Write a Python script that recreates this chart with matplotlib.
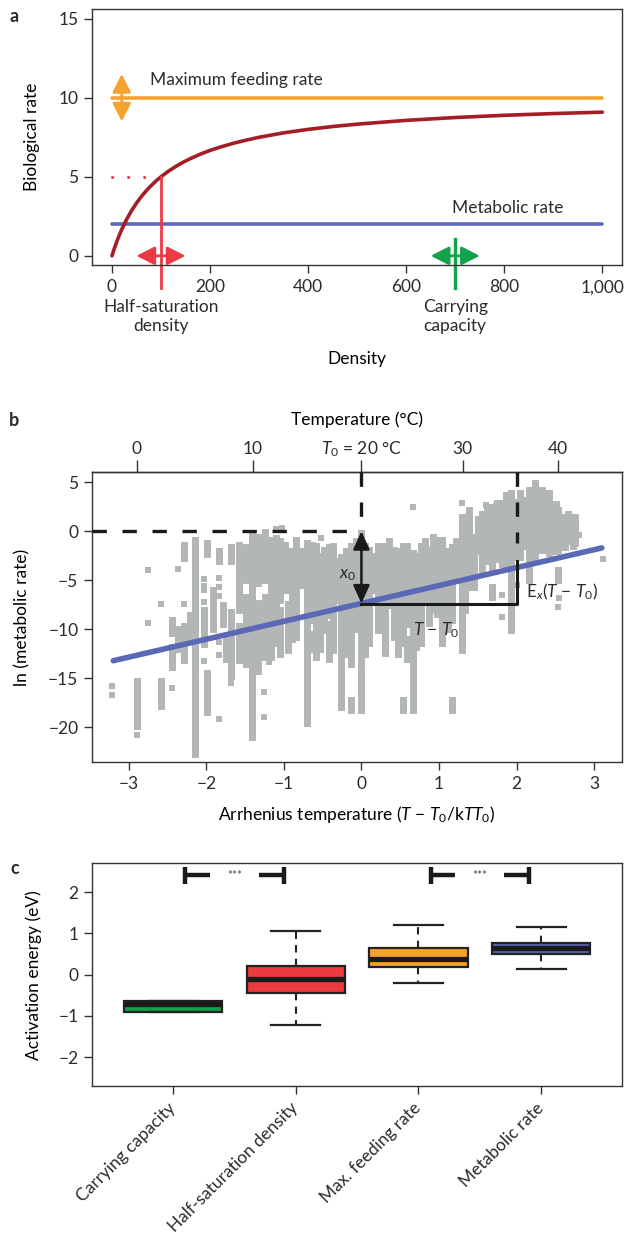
import matplotlib
matplotlib.use('Agg')
import matplotlib.pyplot as plt
import matplotlib.transforms as mtransforms

plt.rcParams['font.family'] = ['Lato', 'DejaVu Sans']
plt.rcParams['mathtext.fontset'] = 'custom'
plt.rcParams['mathtext.rm'] = 'Lato'
plt.rcParams['mathtext.it'] = 'Lato:italic'
plt.rcParams['font.size'] = 12
plt.rcParams['text.color'] = '#2b2b2b'
plt.rcParams['axes.edgecolor'] = '#333333'
plt.rcParams['axes.linewidth'] = 1.0
plt.rcParams['xtick.color'] = '#333333'
plt.rcParams['ytick.color'] = '#333333'
plt.rcParams['xtick.labelcolor'] = '#2b2b2b'
plt.rcParams['ytick.labelcolor'] = '#2b2b2b'

# ---- panel a: conceptual rates vs density ----
density = [0, 5, 10, 15, 20, 30, 40, 50, 60, 70, 80, 90, 100, 115, 130, 145, 160, 180, 200,
           225, 250, 275, 300, 350, 400, 450, 500, 600, 700, 800, 900, 1000]
feeding = [0, 0.48, 0.91, 1.30, 1.67, 2.31, 2.86, 3.33, 3.75, 4.12, 4.44, 4.74, 5.0, 5.35,
           5.65, 5.92, 6.15, 6.43, 6.67, 6.92, 7.14, 7.33, 7.5, 7.78, 8.0, 8.18, 8.33, 8.57,
           8.75, 8.89, 9.0, 9.09]
max_feeding_rate = 10
metabolic_rate = 2
half_saturation = 100
carrying_capacity = 700
density_ticks = [0, 200, 400, 600, 800, 1000]

# ---- panel b: metabolic rate vs Arrhenius temperature ----
# vertical runs of overlapping squares: (x, y_low, y_high)
runs = [
    (-2.90, -19.9, -15.3), (-2.59, -17.8, -15.3), (-2.44, -10.4, -9.0), (-2.44, -12.6, -11.8),
    (-2.44, -13.8, -13.2), (-2.36, -12.0, -10.0), (-2.29, -2.75, -1.4), (-2.29, -13.1, -9.7),
    (-2.21, -11.0, -8.5), (-2.14, -14.2, -0.9), (-2.14, -22.7, -15.0), (-2.03, -11.5, -8.0),
    (-1.99, -2.3, -1.2), (-1.99, -18.4, -14.5), (-1.92, -10.0, -6.0), (-1.84, -3.0, -2.0),
    (-1.78, -9.5, -7.5), (-1.74, -13.0, -11.0), (-1.68, -3.0, -1.6), (-1.68, -14.8, -8.2),
    (-1.58, -4.0, -1.4), (-1.58, -8.0, -4.6), (-1.58, -13.1, -9.7), (-1.49, -5.0, -1.6),
    (-1.49, -13.5, -6.7), (-1.41, -21.0, -0.2), (-1.33, -5.3, -0.55), (-1.33, -14.2, -7.35),
    (-1.24, -5.0, -0.05), (-1.24, -12.8, -6.7), (-1.17, -12.8, -0.9), (-1.10, -9.4, -0.7),
    (-1.10, -11.4, -10.1), (-1.05, -7.0, -1.0), (-1.05, -12.5, -8.0), (-0.98, -6.0, -1.4),
    (-0.95, -12.1, -7.4), (-0.90, -11.0, -2.0), (-0.85, -8.4, -0.9), (-0.85, -10.75, -9.05),
    (-0.78, -5.5, -2.0), (-0.70, -19.6, -1.2), (-0.64, -9.0, -1.4), (-0.64, -12.0, -10.5),
    (-0.59, -12.8, -1.5), (-0.53, -12.0, -2.5), (-0.48, -10.1, -1.9), (-0.42, -8.5, -1.6),
    (-0.42, -13.0, -9.5), (-0.37, -12.1, -1.5), (-0.30, -7.0, -3.0), (-0.26, -13.5, -2.6),
    (-0.26, -17.9, -14.2), (-0.20, -12.5, -2.0), (-0.14, -13.5, -1.5), (-0.14, -18.2, -17.2),
    (-0.07, -10.0, -1.0), (0.00, -13.5, -0.2), (0.00, -18.2, -14.2), (0.05, -12.5, -1.5),
    (0.10, -11.4, -1.9), (0.16, -6.0, -2.5), (0.21, -10.1, -1.5), (0.26, -9.0, -2.5),
    (0.31, -12.4, -1.5), (0.36, -7.5, -1.0), (0.42, -10.75, -1.9), (0.47, -12.5, -2.0),
    (0.53, -11.4, -1.5), (0.53, -18.2, -17.2), (0.59, -9.5, -1.5), (0.59, -13.0, -11.0),
    (0.66, -18.2, -2.2), (0.71, -11.8, -2.5), (0.77, -11.4, -1.5), (0.82, -7.0, -1.0),
    (0.87, -9.4, -1.9), (0.92, -8.0, -0.55), (0.98, -8.4, -0.9), (1.04, -11.4, -0.9),
    (1.11, -10.0, -2.0), (1.17, -9.05, -1.6), (1.17, -18.2, -17.2), (1.22, -5.0, -1.0),
    (1.30, -12.1, 1.5), (1.34, -8.0, 1.0), (1.39, -5.65, 2.2), (1.45, -5.65, -0.55),
    (1.50, -2.0, 1.2), (1.56, -3.95, 1.8), (1.62, -3.0, 2.2), (1.68, -3.95, 2.5),
    (1.68, -6.7, -5.65), (1.74, -2.8, 2.6), (1.81, -3.3, 2.85), (1.87, -3.5, 3.3),
    (1.93, -3.95, 3.9), (1.93, -10.1, -4.6), (1.99, -2.6, 3.0), (2.05, -2.6, 3.9),
    (2.10, -1.5, 3.2), (2.16, -2.9, 4.2), (2.16, -5.0, -3.95), (2.20, -2.3, 3.8),
    (2.24, -2.6, 4.9), (2.29, -1.2, 3.6), (2.33, -1.9, 4.2), (2.38, -1.0, 3.0),
    (2.42, -2.25, 3.9), (2.48, -1.5, 2.6), (2.51, -2.0, 2.8), (2.54, -1.9, 2.17),
    (2.54, -4.97, -3.95), (2.59, -1.2, 1.0), (2.63, -1.6, 1.5), (2.66, -1.0, 1.8),
    (2.70, -0.8, 0.6), (2.73, -1.5, 0.9), (2.76, -1.2, 1.5),
]
points_x = [-3.22, -3.22, -2.90, -2.75, -2.75, -2.59, -2.44, -2.37, -2.29, -2.03, -2.03, -2.03,
            -2.03, -2.03, -1.84, -1.84, -1.84, -1.84, -1.84, -1.84, -1.68, -1.25, -1.25, -1.19,
            -1.10, -1.02, -0.52, 0.66, 1.30, 1.60, 1.75, 1.86, 2.42, 2.76, 3.12, 2.53, 2.55,
            1.81, 1.81, 2.00, 2.80]
points_y = [-15.8, -16.7, -20.8, -3.95, -9.4, -7.45, -16.0, -3.85, -7.45, -4.9, -5.6, -6.0,
            -7.2, -13.2, -4.8, -5.65, -6.6, -11.3, -12.6, -19.1, -15.5, -16.4, -18.9, -13.3,
            0.2, 0.35, -0.7, 2.5, 2.9, 2.7, 2.85, 3.7, 3.9, 1.5, -2.86, -7.7, -6.8,
            -6.5, -8.7, -5.5, -0.4]
fit_x = [-3.2, 3.1]
fit_y = [-13.2, -1.7]
temp_ticks = [0, 10, 20, 30, 40]
temp_labels = ['0', '10', r'$\mathit{T}_0$ = 20 °C', '30', '40']

# ---- panel c: activation energies ----
traits = ['Carrying capacity', 'Half-saturation density', 'Max. feeding rate', 'Metabolic rate']
medians = [-0.70, -0.10, 0.38, 0.64]
q1 = [-0.90, -0.44, 0.19, 0.50]
q3 = [-0.64, 0.21, 0.64, 0.78]
whisk_lo = [-0.90, -1.21, -0.19, 0.14]
whisk_hi = [-0.64, 1.06, 1.21, 1.16]
box_colors = ['#10a24b', '#ec3a40', '#f7a22c', '#5b64b3']
sig_pairs = [(1, 2), (3, 4)]

orange = '#f7a22c'
darkred = '#a51d26'
blue = '#5b68b5'
red = '#ec3a44'
green = '#12a24a'
gray = '#b3b6b6'

fig = plt.figure(figsize=(6.25, 12.34), dpi=100)
axa = fig.add_axes([0.1477, 0.785, 0.8475, 0.2075])
axb = fig.add_axes([0.1477, 0.3827, 0.8475, 0.2345])
axc = fig.add_axes([0.1477, 0.1199, 0.8475, 0.1805])

for ax in (axa, axb, axc):
    ax.tick_params(direction='out', length=6, width=1, pad=4, labelsize=12.5)

# panel a
axa.plot([0, 1000], [max_feeding_rate] * 2, color=orange, lw=2.6, solid_capstyle='round')
axa.plot([0, 1000], [metabolic_rate] * 2, color=blue, lw=2.6, solid_capstyle='round')
axa.plot(density, feeding, color=darkred, lw=2.6, solid_capstyle='round')
axa.plot([0, 76], [max_feeding_rate / 2] * 2, color=red, lw=2.2, ls=(0, (0.05, 5.2)),
         dash_capstyle='round')
axa.plot([half_saturation] * 2, [max_feeding_rate / 2, -2.06], color=red, lw=2, clip_on=False)
axa.plot([carrying_capacity] * 2, [1.05, -2.06], color=green, lw=2.4, clip_on=False)
arrow_style = '<|-|>,head_length=0.55,head_width=0.28'
axa.annotate('', xy=(20, max_feeding_rate + 1.5), xytext=(20, max_feeding_rate - 1.5),
             arrowprops=dict(arrowstyle=arrow_style, mutation_scale=20, color=orange, lw=2,
                             shrinkA=0, shrinkB=0))
axa.annotate('', xy=(half_saturation - 50, 0), xytext=(half_saturation + 50, 0),
             arrowprops=dict(arrowstyle=arrow_style, mutation_scale=20, color=red, lw=2,
                             shrinkA=0, shrinkB=0))
axa.annotate('', xy=(carrying_capacity - 50, 0), xytext=(carrying_capacity + 50, 0),
             arrowprops=dict(arrowstyle=arrow_style, mutation_scale=20, color=green, lw=2,
                             shrinkA=0, shrinkB=0))
axa.text(77, 11.15, 'Maximum feeding rate', ha='left', va='center', fontsize=12.5)
axa.text(920, 3.0, 'Metabolic rate', ha='right', va='center', fontsize=12.5)
trans_a = mtransforms.blended_transform_factory(axa.transData, axa.transAxes)
axa.text(half_saturation, -0.2, 'Half-saturation\ndensity', ha='center', va='center',
         transform=trans_a, fontsize=12.5, linespacing=1.25)
axa.text(carrying_capacity, -0.2, 'Carrying\ncapacity', ha='center', va='center',
         transform=trans_a, fontsize=12.5, linespacing=1.25)
axa.set_xlim(-40, 1040)
axa.set_ylim(-0.6, 15.6)
axa.set_xticks(density_ticks, [f'{v:,}' for v in density_ticks])
axa.set_yticks([0, 5, 10, 15])
axa.set_xlabel('Density', fontsize=12.5, labelpad=40)
axa.set_ylabel('Biological rate', fontsize=12.5)
axa.yaxis.set_label_coords(-0.099, 0.5)

# panel b
run_x = [r[0] for r in runs]
run_lo = [r[1] for r in runs]
run_hi = [r[2] for r in runs]
axb.vlines(run_x, run_lo, run_hi, colors=gray, linewidth=5, capstyle='projecting', zorder=1)
axb.scatter(points_x, points_y, marker='s', s=25, color=gray, linewidths=0, zorder=1)
axb.plot(fit_x, fit_y, color=blue, lw=4, solid_capstyle='round', zorder=3)

xmin, xmax, ymin, ymax = -3.47, 3.36, -23.5, 6.0
x0_level = fit_y[0] + (0 - fit_x[0]) * (fit_y[1] - fit_y[0]) / (fit_x[1] - fit_x[0])
dash = dict(color='#1a1a1a', lw=2.4, dashes=(4.3, 4.7), zorder=4)
axb.plot([xmin, 0], [0, 0], **dash)
axb.plot([0, 0], [ymax, 0.3], **dash)
axb.plot([2, 2], [ymax, -1.2], **dash)
axb.plot([0, 2, 2], [x0_level - 0.1, x0_level - 0.1, -3.0], color='#1a1a1a', lw=2.2, zorder=4)
axb.annotate('', xy=(0, 0), xytext=(0, x0_level),
             arrowprops=dict(arrowstyle='<|-|>,head_length=0.55,head_width=0.25',
                             mutation_scale=20, color='#1a1a1a', lw=1.8, shrinkA=0, shrinkB=0),
             zorder=5)
axb.text(-0.07, -4.5, r'$\mathit{x}_0$', ha='right', va='center', fontsize=12.5, zorder=5)
axb.text(0.97, -10.1, r'$\mathit{T}$ − $\mathit{T}_0$', ha='center', va='center',
         fontsize=12.5, zorder=5)
axb.text(2.12, -6.2, r'E$_\mathit{x}$($\mathit{T}$ − $\mathit{T}_0$)', ha='left', va='center',
         fontsize=12.5, zorder=5)
axb.set_xlim(xmin, xmax)
axb.set_ylim(ymin, ymax)
axb.set_xticks([-3, -2, -1, 0, 1, 2, 3])
axb.set_yticks([5, 0, -5, -10, -15, -20])
axb.set_xlabel(r'Arrhenius temperature ($\mathit{T}$ − $\mathit{T}_0$/k$\mathit{TT}_0$)',
               fontsize=12.5, labelpad=9)
axb.set_ylabel('ln (metabolic rate)', fontsize=12.5)
axb.yaxis.set_label_coords(-0.116, 0.5)

k_b = 8.617e-5
T0 = 293.15


def arrh_to_celsius(x):
    return T0 / (1 - k_b * T0 * x) - 273.15


def celsius_to_arrh(c):
    T = c + 273.15
    return (T - T0) / (k_b * T * T0)


top = axb.secondary_xaxis('top', functions=(arrh_to_celsius, celsius_to_arrh))
top.set_xticks(temp_ticks, temp_labels)
top.tick_params(direction='out', length=9, width=1, pad=4, labelsize=12.5)
for lab in top.get_xticklabels():
    lab.set_va('baseline')
top.set_xlabel('Temperature (°C)', fontsize=12.5, labelpad=10)

# panel c
stats = []
for i in range(len(traits)):
    stats.append(dict(med=medians[i], q1=q1[i], q3=q3[i], whislo=whisk_lo[i],
                      whishi=whisk_hi[i], fliers=[]))
bp = axc.bxp(stats, positions=[1, 2, 3, 4], widths=0.8, capwidths=0.4, patch_artist=True,
             showfliers=False,
             boxprops=dict(edgecolor='#222222', linewidth=1.6),
             medianprops=dict(color='#1a1a1a', linewidth=3.8, solid_capstyle='butt'),
             whiskerprops=dict(color='#222222', linewidth=1.5, linestyle=(0, (3.5, 3.0))),
             capprops=dict(color='#222222', linewidth=1.6))
for patch, col in zip(bp['boxes'], box_colors):
    patch.set_facecolor(col)

sig_y = 2.41
for a, b in sig_pairs:
    for xs, ys in [([a + 0.1, a + 0.1], [sig_y - 0.2, sig_y + 0.2]),
                   ([a + 0.1, a + 0.3], [sig_y, sig_y]),
                   ([b - 0.3, b - 0.1], [sig_y, sig_y]),
                   ([b - 0.1, b - 0.1], [sig_y - 0.2, sig_y + 0.2])]:
        axc.plot(xs, ys, color='#1a1a1a', lw=3.2, solid_capstyle='butt')
    axc.text((a + b) / 2, sig_y, '***', ha='center', va='center', fontsize=8.5, color='#444444')
axc.set_xlim(0.34, 4.66)
axc.set_ylim(-2.7, 2.7)
axc.set_yticks([-2, -1, 0, 1, 2])
axc.set_xticks([1, 2, 3, 4])
axc.set_xticklabels(traits, rotation=45, ha='right', va='center', rotation_mode='anchor')
axc.tick_params(axis='x', pad=8)
axc.set_ylabel('Activation energy (eV)', fontsize=12.5)
axc.yaxis.set_label_coords(-0.095, 0.5)

fig.text(14 / 625, 1 - 16 / 1234, 'a', fontsize=13, fontweight='bold', ha='center', va='center')
fig.text(14 / 625, 1 - 420 / 1234, 'b', fontsize=13, fontweight='bold', ha='center', va='center')
fig.text(15 / 625, 1 - 869 / 1234, 'c', fontsize=13, fontweight='bold', ha='center', va='center')

fig.savefig('out.png', dpi=100)
